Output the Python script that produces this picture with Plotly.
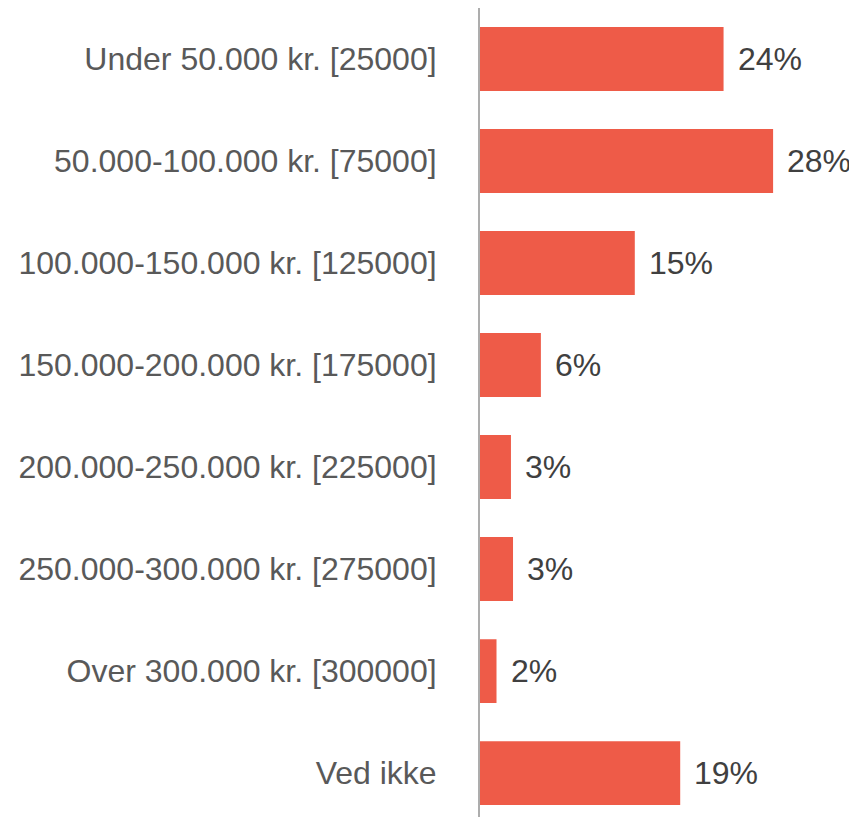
import plotly.graph_objects as go

categories = [
    "Under 50.000 kr. [25000]",
    "50.000-100.000 kr. [75000]",
    "100.000-150.000 kr. [125000]",
    "150.000-200.000 kr. [175000]",
    "200.000-250.000 kr. [225000]",
    "250.000-300.000 kr. [275000]",
    "Over 300.000 kr. [300000]",
    "Ved ikke",
]
values = [23.6, 28.4, 15.0, 5.9, 3.0, 3.2, 1.6, 19.4]
labels = [f"{round(v)}%" for v in values]

BAR_COLOR = "#EE5B48"
FONT = "Liberation Sans, Arial, sans-serif"

fig = go.Figure(
    go.Bar(
        x=values,
        y=categories,
        orientation="h",
        marker=dict(color=BAR_COLOR, line=dict(width=0)),
        hoverinfo="skip",
    )
)

for v, c, t in zip(values, categories, labels):
    fig.add_annotation(
        x=v, y=c, text=t, xanchor="left", yanchor="middle",
        xshift=12, showarrow=False,
        font=dict(family=FONT, size=32, color="#404040"),
    )

fig.update_layout(
    width=849, height=809,
    margin=dict(l=472, r=0, t=0, b=0, autoexpand=False),
    paper_bgcolor="white", plot_bgcolor="white",
    bargap=0.373,
    showlegend=False,
    font=dict(family=FONT, size=32, color="#595959"),
    xaxis=dict(range=[0, 36.53], visible=False, fixedrange=True, automargin=False),
    yaxis=dict(
        type="category",
        range=[7.43, -0.5],
        showline=True, linecolor="#ADADAD", linewidth=2,
        showgrid=False, zeroline=False,
        ticks="", ticklabelstandoff=35,
        tickfont=dict(family=FONT, size=32, color="#595959"),
        fixedrange=True, automargin=False,
    ),
)

fig.write_html("out.html")
